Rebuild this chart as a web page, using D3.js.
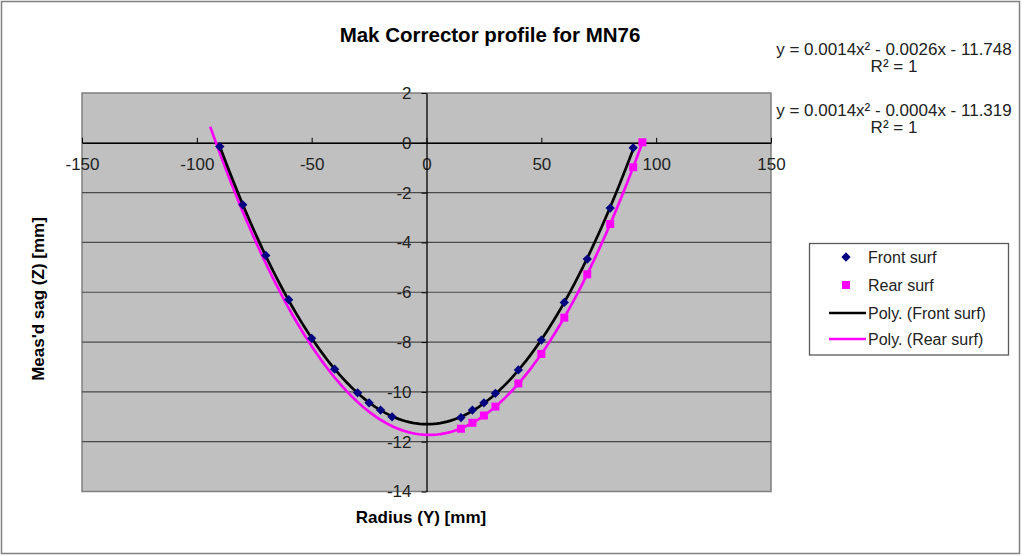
<!DOCTYPE html>
<html>
<head>
<meta charset="utf-8">
<script src="https://cdn.jsdelivr.net/npm/d3@7/dist/d3.min.js"></script>
<style>
  html, body { margin: 0; padding: 0; background: #ffffff; }
  svg { display: block; font-family: "Liberation Sans", Arial, sans-serif; }
</style>
</head>
<body>
<svg id="chart" width="1024" height="556"></svg>
<script>
// ---------- data ----------
const chartTitle = "Mak Corrector profile for MN76";
const xTitle = "Radius (Y) [mm]";
const yTitle = "Meas'd sag (Z) [mm]";
const xTicks = [-150, -100, -50, 0, 50, 100, 150];
const yTicks = [2, 0, -2, -4, -6, -8, -10, -12, -14];

const frontX = [-90, -80, -70, -60, -50, -40, -30, -25, -20, -15, 15, 20, 25, 30, 40, 50, 60, 70, 80, 90];
const frontY = [-0.15, -2.49, -4.52, -6.30, -7.85, -9.09, -10.04, -10.44, -10.73, -11.00,
                -11.03, -10.73, -10.44, -10.06, -9.12, -7.92, -6.41, -4.67, -2.62, -0.20];

const rearX = [15, 20, 25, 30, 40, 50, 60, 70, 80, 90, 94];
const rearY = [-11.48, -11.24, -10.95, -10.59, -9.66, -8.48, -7.02, -5.28, -3.26, -0.98, 0.02];

const frontTrendRange = [-90, 90];
const rearTrendRange = [-94.2, 94];

const legendLabels = ["Front surf", "Rear surf", "Poly. (Front surf)", "Poly. (Rear surf)"];
const equationLines = ["y = 0.0014x² - 0.0026x - 11.748", "R² = 1",
                       "y = 0.0014x² - 0.0004x - 11.319", "R² = 1"];

// ---------- helpers ----------
function quadFit(xs, ys) {
  // least squares y = a x^2 + b x + c
  let s0 = xs.length, s1 = 0, s2 = 0, s3 = 0, s4 = 0, t0 = 0, t1 = 0, t2 = 0;
  xs.forEach((x, i) => {
    const y = ys[i];
    s1 += x; s2 += x * x; s3 += x * x * x; s4 += x * x * x * x;
    t0 += y; t1 += x * y; t2 += x * x * y;
  });
  const M = [[s4, s3, s2, t2], [s3, s2, s1, t1], [s2, s1, s0, t0]];
  for (let i = 0; i < 3; i++) {
    let p = i;
    for (let r = i + 1; r < 3; r++) if (Math.abs(M[r][i]) > Math.abs(M[p][i])) p = r;
    [M[i], M[p]] = [M[p], M[i]];
    for (let r = 0; r < 3; r++) {
      if (r === i) continue;
      const f = M[r][i] / M[i][i];
      for (let c = i; c < 4; c++) M[r][c] -= f * M[i][c];
    }
  }
  return [M[0][3] / M[0][0], M[1][3] / M[1][1], M[2][3] / M[2][2]];
}

// ---------- layout ----------
const svg = d3.select("#chart");
const plot = { left: 82, right: 771, top: 93, bottom: 491.5 };

const x = d3.scaleLinear().domain([-150, 150]).range([plot.left, plot.right]);
const y = d3.scaleLinear().domain([-14, 2]).range([plot.bottom, plot.top]);

// outer chart border
svg.append("rect")
  .attr("x", 1.5).attr("y", 1.5).attr("width", 1018).attr("height", 552)
  .attr("fill", "#ffffff").attr("stroke", "#808080").attr("stroke-width", 1.5);

// plot area
svg.append("rect")
  .attr("x", plot.left).attr("y", plot.top)
  .attr("width", plot.right - plot.left).attr("height", plot.bottom - plot.top)
  .attr("fill", "#c0c0c0").attr("stroke", "#808080").attr("stroke-width", 1.5);

// gridlines
svg.append("g").selectAll("line").data(yTicks.filter(d => d !== 2 && d !== -14)).join("line")
  .attr("x1", plot.left).attr("x2", plot.right)
  .attr("y1", d => y(d)).attr("y2", d => y(d))
  .attr("stroke", "#4a4a4a").attr("stroke-width", 1.2);

// x axis at y = 0
const xAxis = d3.axisBottom(x).tickValues(xTicks).tickFormat(d => String(d))
  .tickSizeInner(-5).tickSizeOuter(0).tickPadding(15);
const gx = svg.append("g").attr("transform", `translate(0,${y(0)})`).call(xAxis);
gx.select(".domain").attr("stroke", "#000").attr("stroke-width", 1.3);
gx.selectAll(".tick line").attr("stroke", "#000");
gx.selectAll(".tick text").attr("fill", "#222").style("font-size", "17px")
  .style("font-family", "'Liberation Sans', Arial, sans-serif");

// y axis at x = 0
const yAxis = d3.axisLeft(y).tickValues(yTicks).tickFormat(d => String(d))
  .tickSizeInner(5).tickSizeOuter(0).tickPadding(10);
const gy = svg.append("g").attr("transform", `translate(${x(0)},0)`).call(yAxis);
gy.select(".domain").attr("stroke", "#000").attr("stroke-width", 1.3);
gy.selectAll(".tick line").attr("stroke", "#000");
gy.selectAll(".tick text").attr("fill", "#222").style("font-size", "17px")
  .style("font-family", "'Liberation Sans', Arial, sans-serif");

// trendlines
const line = d3.line().x(d => x(d[0])).y(d => y(d[1]));
function trendPoints(xs, ys, range) {
  const [a, b, c] = quadFit(xs, ys);
  const n = 120;
  return d3.range(n + 1).map(i => {
    const xv = range[0] + (range[1] - range[0]) * i / n;
    return [xv, a * xv * xv + b * xv + c];
  });
}
svg.append("path").datum(trendPoints(rearX, rearY, rearTrendRange))
  .attr("d", line).attr("fill", "none").attr("stroke", "#ff00ff").attr("stroke-width", 2.7);
svg.append("path").datum(trendPoints(frontX, frontY, frontTrendRange))
  .attr("d", line).attr("fill", "none").attr("stroke", "#000000").attr("stroke-width", 2.7);

// markers
const diamond = d3.symbol().type(d3.symbolDiamond2).size(55);
svg.append("g").selectAll("path").data(frontX.map((v, i) => [v, frontY[i]])).join("path")
  .attr("d", diamond)
  .attr("transform", d => `translate(${x(d[0])},${y(d[1])})`)
  .attr("fill", "#000080");

svg.append("g").selectAll("rect").data(rearX.map((v, i) => [v, rearY[i]])).join("rect")
  .attr("x", d => x(d[0]) - 4).attr("y", d => y(d[1]) - 4)
  .attr("width", 8).attr("height", 8)
  .attr("fill", "#ff00ff");

// titles
svg.append("text").attr("x", 490).attr("y", 42).attr("text-anchor", "middle")
  .style("font-size", "20.5px").style("font-weight", "bold").attr("fill", "#000")
  .text(chartTitle);
svg.append("text").attr("x", 421).attr("y", 523).attr("text-anchor", "middle")
  .style("font-size", "17px").style("font-weight", "bold").attr("fill", "#000")
  .text(xTitle);
svg.append("text").attr("transform", "translate(44,299) rotate(-90)").attr("text-anchor", "middle")
  .style("font-size", "17px").style("font-weight", "bold").attr("fill", "#000")
  .text(yTitle);

// equations
const eqY = [55, 72, 116, 133];
svg.append("g").selectAll("text").data(equationLines).join("text")
  .attr("x", 894).attr("y", (d, i) => eqY[i]).attr("text-anchor", "middle")
  .style("font-size", "17px").attr("fill", "#222")
  .text(d => d);

// legend
const lg = svg.append("g");
lg.append("rect").attr("x", 809.5).attr("y", 243.5).attr("width", 199).attr("height", 111.5)
  .attr("fill", "#ffffff").attr("stroke", "#5a5a5a").attr("stroke-width", 1.3);
const rowY = [257, 285, 313, 339];
lg.selectAll("text").data(legendLabels).join("text")
  .attr("x", 868).attr("y", (d, i) => rowY[i]).attr("dy", "0.35em")
  .style("font-size", "16px").attr("fill", "#222").text(d => d);
lg.append("path").attr("d", diamond).attr("transform", `translate(846,${rowY[0]})`).attr("fill", "#000080");
lg.append("rect").attr("x", 842).attr("y", rowY[1] - 4).attr("width", 8).attr("height", 8).attr("fill", "#ff00ff");
lg.append("line").attr("x1", 829).attr("x2", 866).attr("y1", rowY[2]).attr("y2", rowY[2])
  .attr("stroke", "#000").attr("stroke-width", 2.7);
lg.append("line").attr("x1", 829).attr("x2", 866).attr("y1", rowY[3]).attr("y2", rowY[3])
  .attr("stroke", "#ff00ff").attr("stroke-width", 2.7);
</script>
</body>
</html>
